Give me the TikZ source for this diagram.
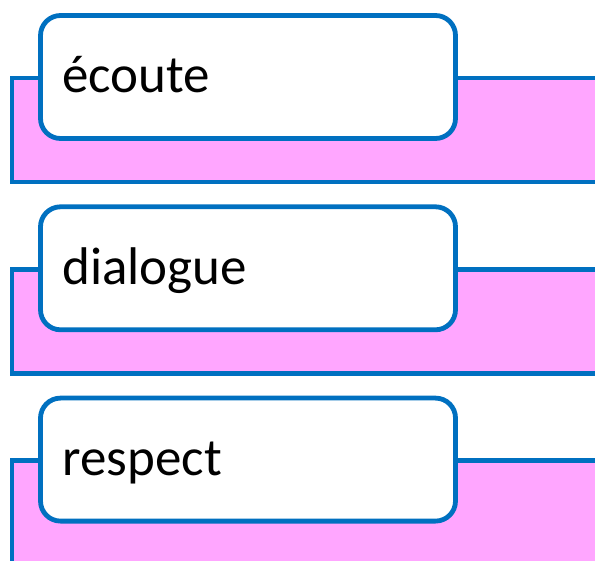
\documentclass[tikz,border=0pt]{standalone}
\usepackage{fontspec}
\setmainfont{Carlito}
\definecolor{edgeblue}{RGB}{0,112,192}
\definecolor{bandpink}{RGB}{255,166,255}

\begin{document}
\begin{tikzpicture}[x=1pt, y=-1pt,
  band/.style={draw=edgeblue, fill=bandpink, line width=4.8pt, outer sep=0pt,
    minimum width=640pt, minimum height=104pt, anchor=north west},
  item/.style={draw=edgeblue, fill=white, line width=4.8pt, outer sep=0pt,
    rounded corners=20pt, minimum width=415pt, minimum height=123pt,
    text width=371pt, align=left, inner xsep=22pt, anchor=north west,
    text height=32pt, text depth=0pt, font=\fontsize{53}{63}\selectfont}]
\useasboundingbox (0,0) rectangle (595,561);
\clip (0,0) rectangle (595,561);
\foreach \x/\t in {0/écoute, 1/dialogue, 2/respect} {
  \node (band\x) at (12, 78+\x*191.3) [band] {};
  \node (item\x) at (40.5, 15.5+\x*191.3) [item] {\t};
}
\end{tikzpicture}
\end{document}
